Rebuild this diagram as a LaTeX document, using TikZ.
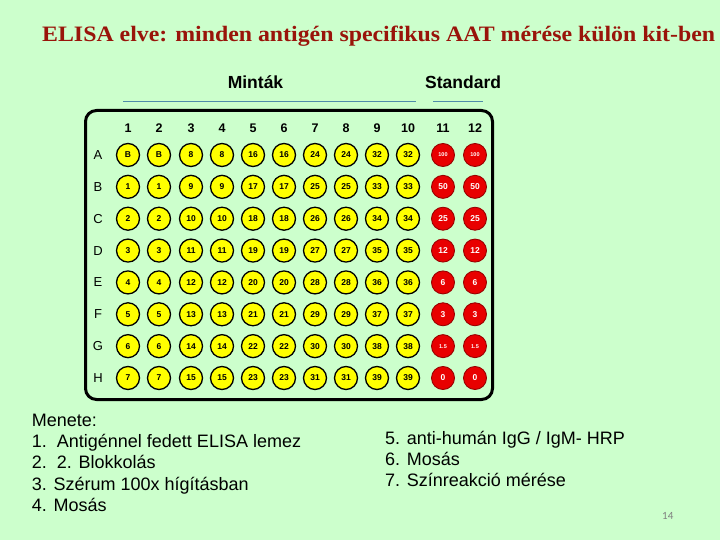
\documentclass[tikz,border=0pt]{standalone}
\usepackage{fontspec}
\setmainfont{Liberation Sans}
\newfontfamily\titlefont{Liberation Serif}
\newfontfamily\numfont{Carlito}
\usepackage{graphicx}
\definecolor{bg}{RGB}{204,255,204}
\definecolor{titlered}{RGB}{153,20,10}
\definecolor{lineblue}{RGB}{80,140,170}
\definecolor{wellred}{RGB}{232,0,0}
\definecolor{wellyellow}{RGB}{255,255,0}
\begin{document}
\begin{tikzpicture}[x=1pt,y=-1pt,
  yw/.style={circle, draw=black, line width=1.3pt, fill=wellyellow, minimum size=23pt, inner sep=0pt,
    font=\bfseries\fontsize{8.5}{8.5}\selectfont},
  rw/.style={circle, draw=red!60!black, line width=0.9pt, fill=wellred, minimum size=23pt, inner sep=0pt,
    text=white},
  collab/.style={inner sep=0pt, font=\bfseries\fontsize{12.5}{13}\selectfont},
  rowlab/.style={inner sep=0pt, font=\fontsize{13}{13}\selectfont},
  body/.style={anchor=base west, inner sep=0pt, font=\fontsize{18}{20}\selectfont},
  head/.style={anchor=base, inner sep=0pt, font=\bfseries\fontsize{17.5}{20}\selectfont},
  rule/.style={draw=lineblue, line width=0.8pt}]
\fill[bg] (0,0) rectangle (720,540);
\useasboundingbox (0,0) rectangle (720,540);

% title
\node[anchor=base west, inner sep=0pt, text=titlered] (title) at (42,41.7)
  {\resizebox{673pt}{\height}{\titlefont\bfseries\fontsize{22}{26}\selectfont ELISA elve: minden antigén specifikus AAT mérése külön kit-ben}};

% headings
\node[head] (mintak) at (255.5,88.3) {Minták};
\node[head, anchor=base west] (standard) at (425,88.3) {Standard};
\coordinate (l1a) at (123,101); \coordinate (l1b) at (416,101);
\coordinate (l2a) at (433,101); \coordinate (l2b) at (483,101);
\draw[rule] (l1a) -- (l1b);
\draw[rule] (l2a) -- (l2b);

% plate
\node[draw=black, line width=3pt, rounded corners=11pt, minimum width=407pt, minimum height=289pt, inner sep=0pt] (plate) at (289,255) {};

% column labels
\foreach \x [count=\c] in {128,159,191,222,253,284,315,346,377,408,443,475}{
  \node[collab] (col\c) at (\x,128) {\c};
}
% row labels and wells
\foreach \r [count=\i from 0] in {A,B,C,D,E,F,G,H}{
  \pgfmathsetmacro{\yy}{155+\i*31.857}
  \node[rowlab] (row\r) at (98,\yy) {\r};
  \foreach \x [count=\c] in {128,159,191,222,253,284,315,346,377,408}{
    \pgfmathtruncatemacro{\val}{8*int((\c-1)/2)+\i}
    \ifnum\val=0 \def\lab{B}\else \edef\lab{\val}\fi
    \node[yw] (w\r\c) at (\x,\yy) {\lab};
  }
}
\foreach \v/\f [count=\i from 0] in {100/5.5,50/8.5,25/8.5,12/8.5,6/8.5,3/8.5,1.5/5.5,0/8.5}{
  \pgfmathsetmacro{\yy}{155+\i*31.857}
  \node[rw, font=\bfseries\fontsize{\f}{\f}\selectfont] (s\i a) at (443,\yy) {\v};
  \node[rw, font=\bfseries\fontsize{\f}{\f}\selectfont] (s\i b) at (475,\yy) {\v};
}

% procedure text
\node[body] (m0) at (31.7,426) {Menete:};
\node[body] (m1) at (31.7,447) {1.\ \ Antigénnel fedett ELISA lemez};
\node[body] (m2) at (31.7,468.5) {2.\ \ 2. Blokkolás};
\node[body] (m3) at (31.7,490) {3. Szérum 100x hígításban};
\node[body] (m4) at (31.7,511.5) {4. Mosás};
\node[body] (m5) at (385,444) {5. anti-humán IgG / IgM- HRP};
\node[body] (m6) at (385,465.3) {6. Mosás};
\node[body] (m7) at (385,486.7) {7. Színreakció mérése};
\node[anchor=base west, inner sep=0pt, text=gray, font=\numfont\fontsize{11}{13}\selectfont] (pg) at (662,519) {14};
\end{tikzpicture}
\end{document}
